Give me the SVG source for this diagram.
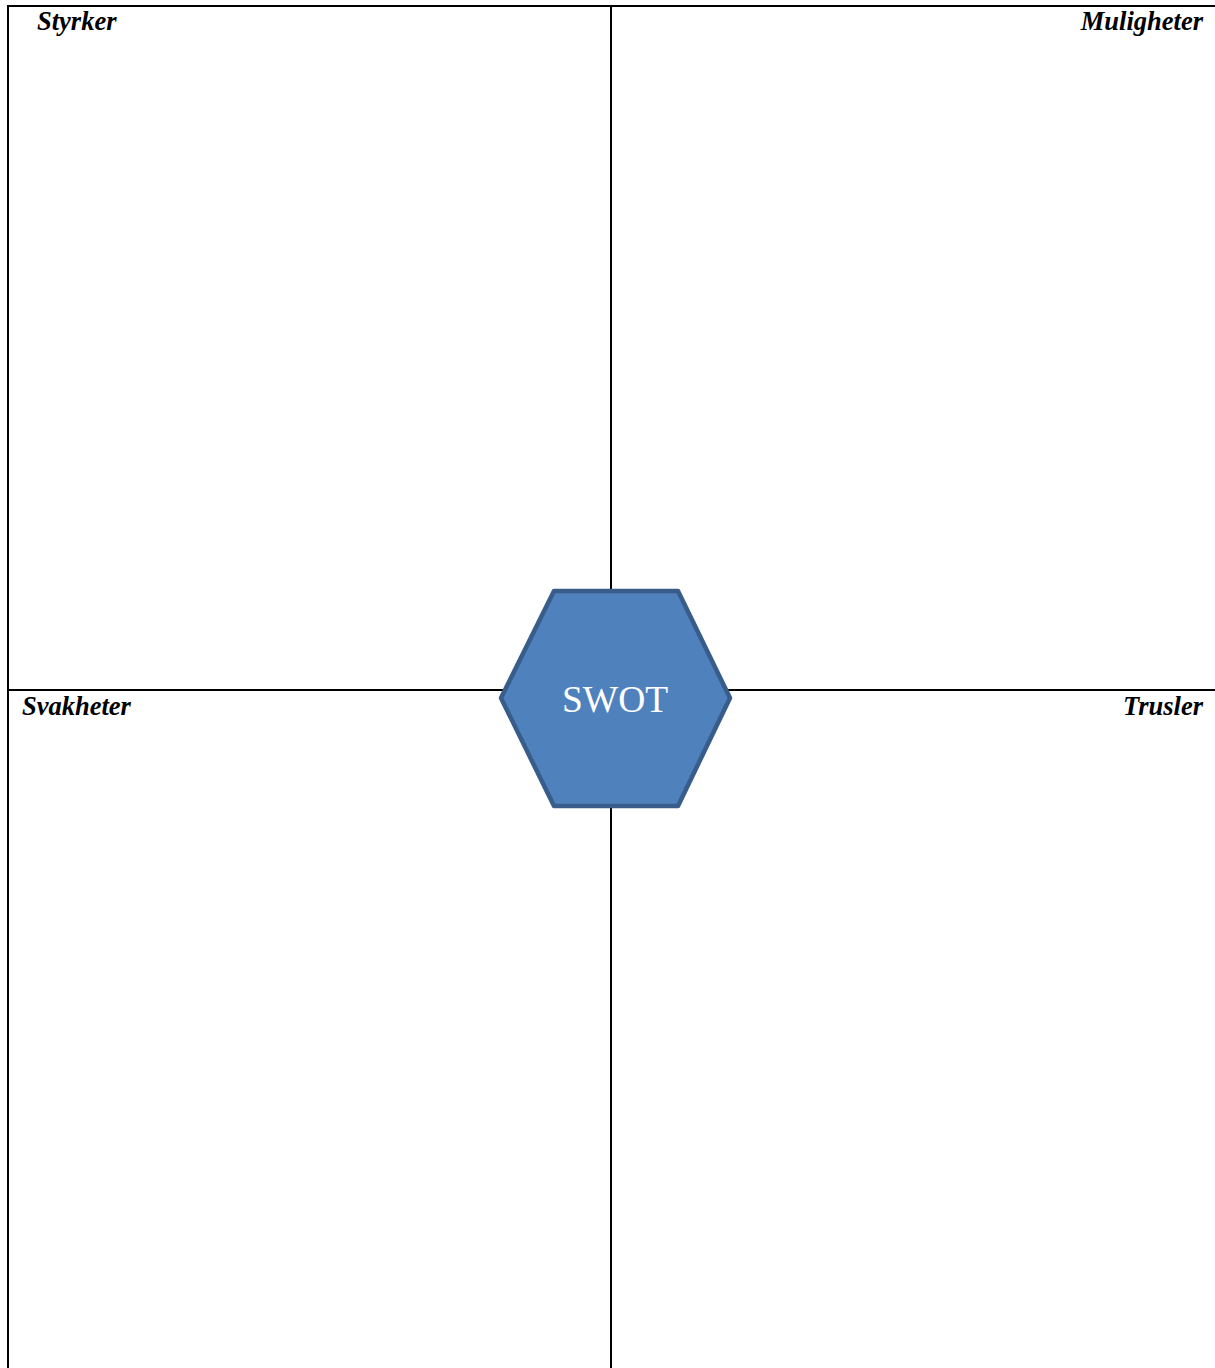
<svg xmlns="http://www.w3.org/2000/svg" width="1215" height="1368" viewBox="0 0 1215 1368">
<style>
.ln{stroke:#000;stroke-width:2;fill:none}
.lbl{font-family:"Liberation Serif","Times New Roman",serif;font-weight:bold;font-style:italic;font-size:26.5px;fill:#000}
.hex{fill:#4F81BD;stroke:#385D8A;stroke-width:4.5;stroke-linejoin:round}
.ht{font-family:"Liberation Serif","Times New Roman",serif;font-size:37.5px;fill:#fff}
</style>
<rect width="1215" height="1368" fill="#fff"/>
<g id="connectors">
<line class="ln" x1="8" y1="6" x2="1215" y2="6"/>
<line class="ln" x1="8" y1="5" x2="8" y2="1368"/>
<line class="ln" x1="611" y1="6" x2="611" y2="1368"/>
<line class="ln" x1="8" y1="690" x2="1215" y2="690"/>
</g>
<g id="styrker"><text class="lbl" x="37" y="30">Styrker</text></g>
<g id="muligheter"><text class="lbl" x="1203" y="30" text-anchor="end">Muligheter</text></g>
<g id="svakheter"><text class="lbl" x="22" y="715">Svakheter</text></g>
<g id="trusler"><text class="lbl" x="1203" y="715" text-anchor="end">Trusler</text></g>
<g id="swot">
<polygon class="hex" points="554,591 678,591 730,698 678,806 554,806 501,698"/>
<text class="ht" x="615" y="712" text-anchor="middle">SWOT</text>
</g>
</svg>
